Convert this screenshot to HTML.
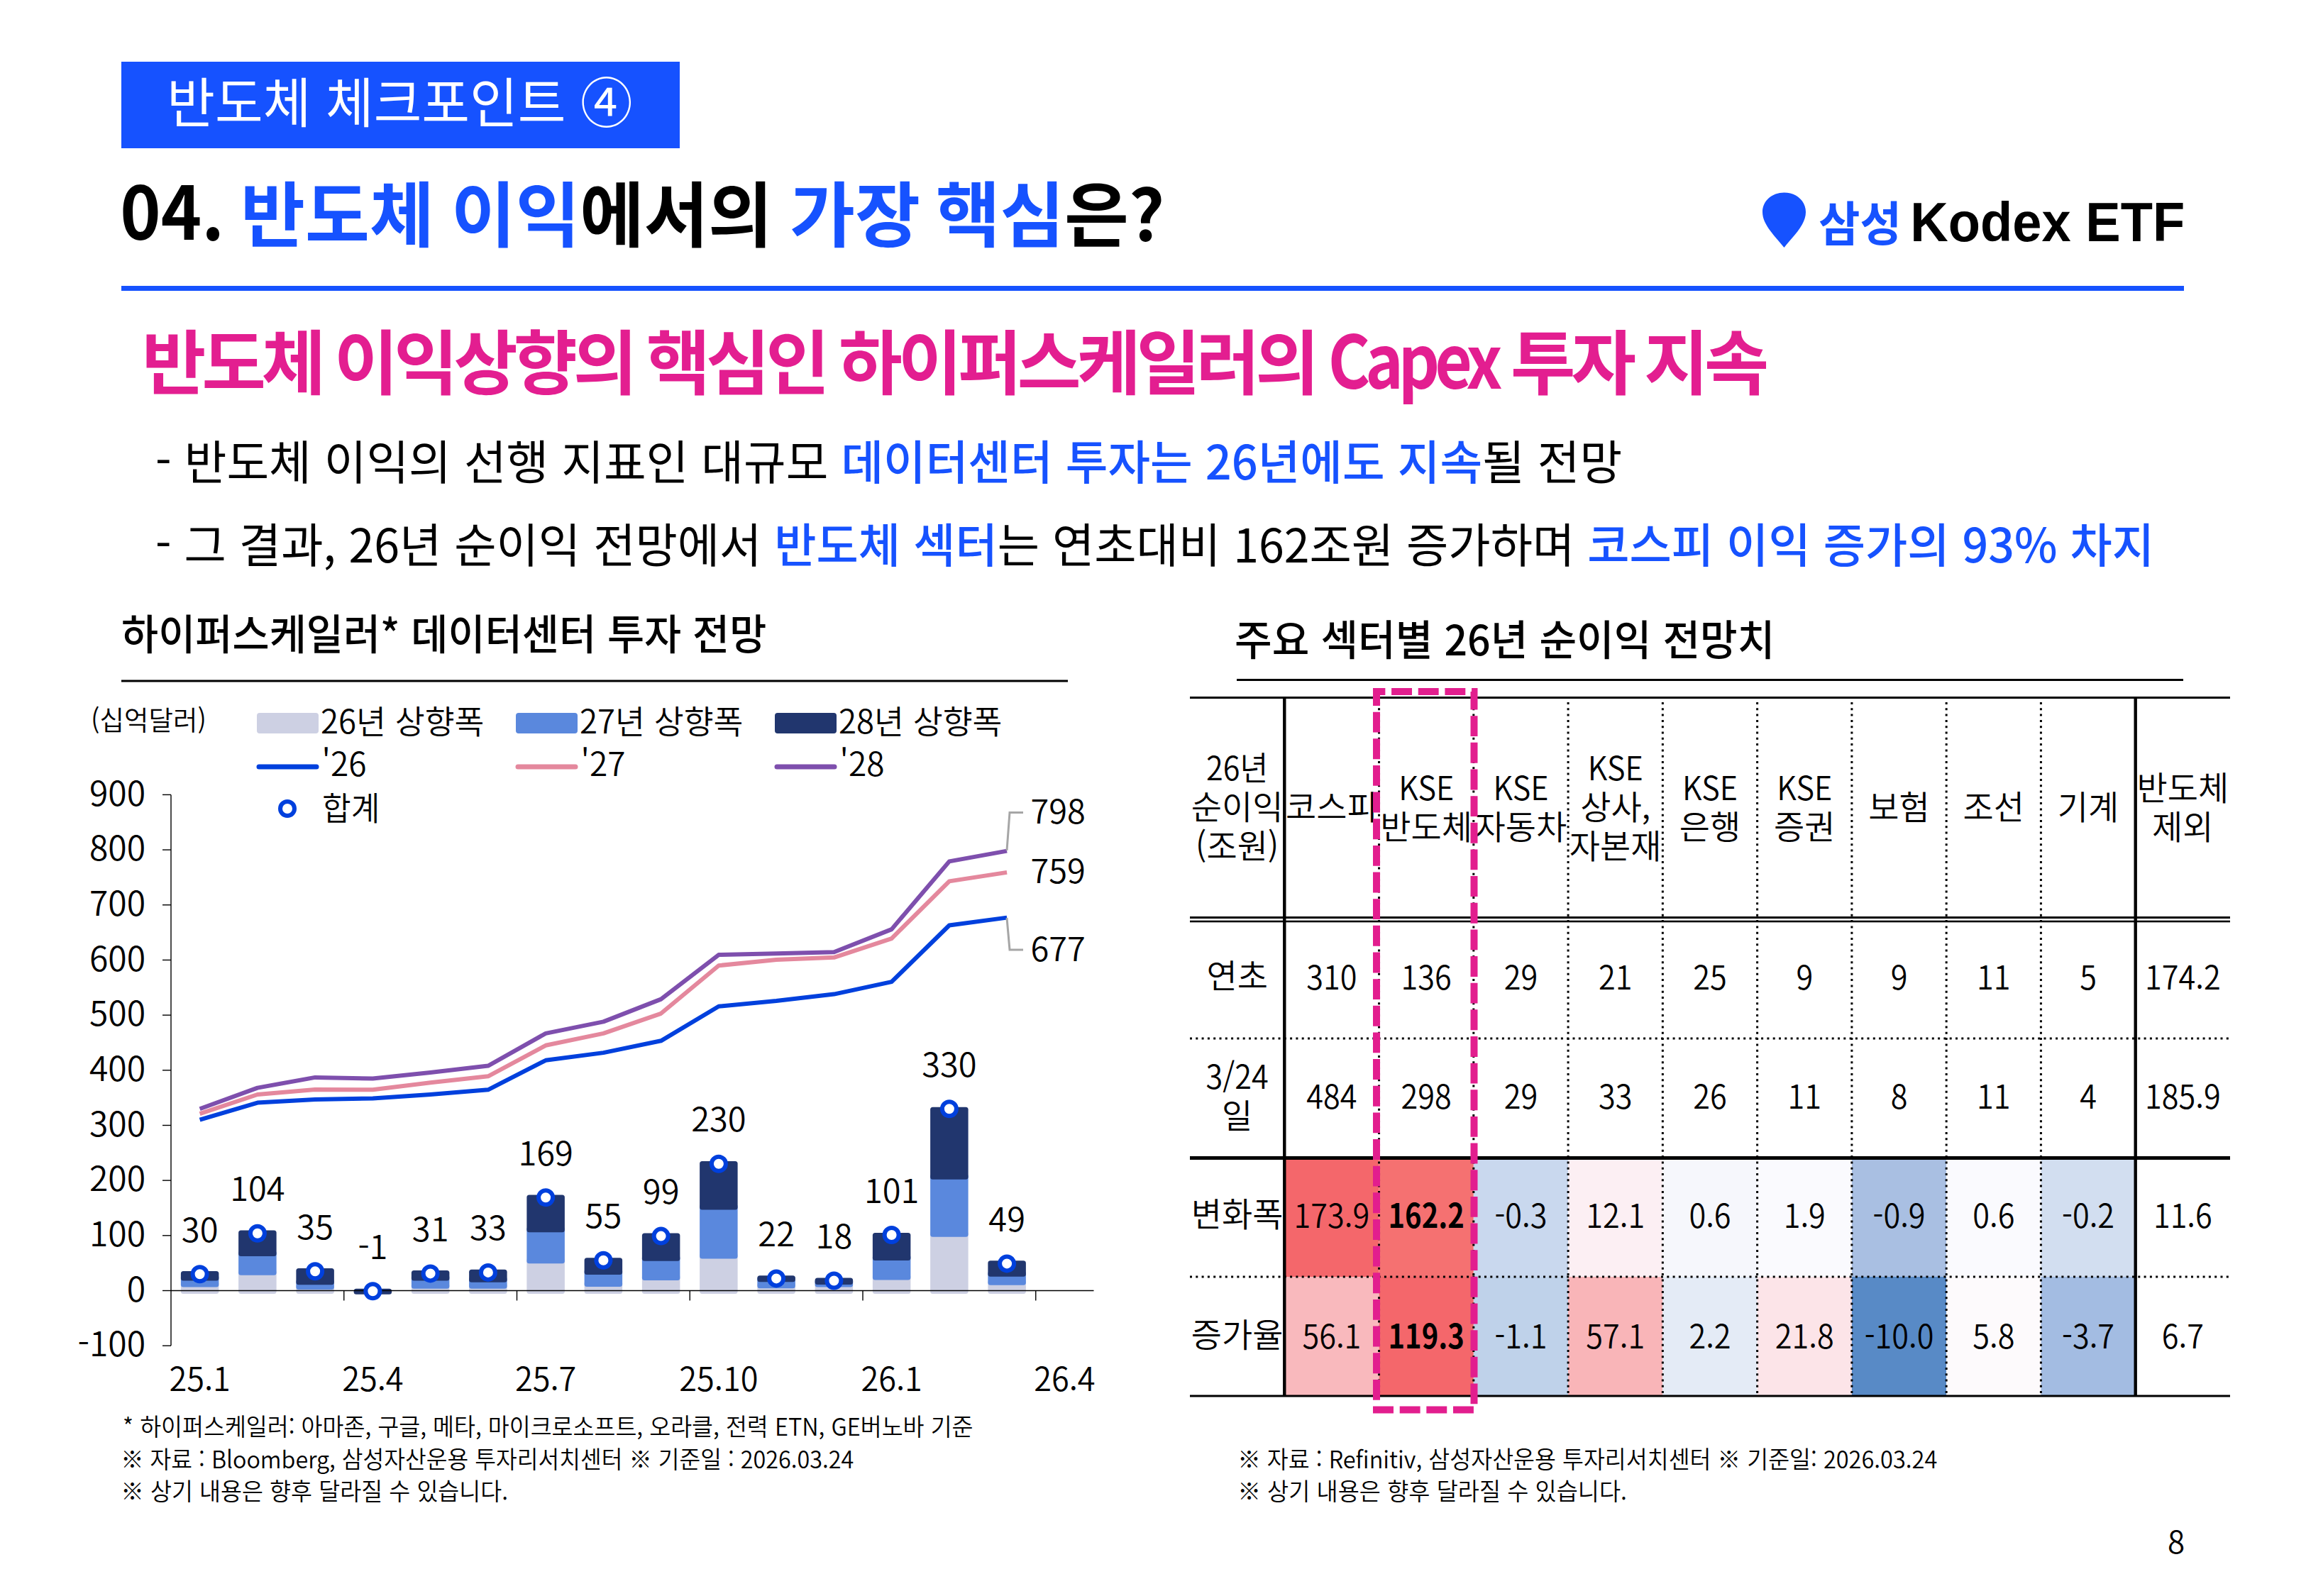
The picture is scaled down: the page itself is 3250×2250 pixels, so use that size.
<!DOCTYPE html>
<html lang="ko"><head><meta charset="utf-8">
<style>
html,body{margin:0;padding:0;background:#fff;}
body{width:3250px;height:2250px;overflow:hidden;}
svg{display:block;font-family:'Noto Sans CJK KR','Liberation Sans',sans-serif;}
</style></head><body>
<svg width="3250" height="2250" viewBox="0 0 3250 2250">
<rect x="171.00" y="87.00" width="787.00" height="122.00" fill="#1652FF"/>
<text transform="translate(235.22,173.40) scale(0.9685,1)" font-size="76" font-weight="400" fill="#fff" text-anchor="start">반도체 체크포인트 ④</text>
<text transform="translate(169.31,337.80) scale(0.9371,1)" font-size="104" font-weight="700" fill="#000" text-anchor="start">04.</text>
<text transform="translate(339.08,340.00) scale(0.9885,1)" font-size="100" font-weight="700" fill="#000" text-anchor="start"><tspan fill="#1652FF">반도체</tspan></text>
<text transform="translate(636.11,340.00) scale(0.9841,1)" font-size="100" font-weight="700" fill="#000" text-anchor="start"><tspan fill="#1652FF">이익</tspan>에서의</text>
<text transform="translate(1113.00,340.00)" font-size="100" font-weight="700" fill="#000" text-anchor="start"><tspan fill="#1652FF">가장</tspan></text>
<text transform="translate(1319.06,340.00) scale(0.9842,1)" font-size="100" font-weight="700" fill="#000" text-anchor="start"><tspan fill="#1652FF">핵심</tspan>은?</text>
<path d="M2514.5 349 C2502 333 2484 317 2484 299 C2484 283 2497.5 271.5 2514.5 271.5 C2531.5 271.5 2545 283 2545 299 C2545 317 2527 333 2514.5 349 Z" fill="#1652FF"/>
<text transform="translate(2563.11,340.00) scale(0.9474,1)" font-size="67" font-weight="700" fill="#1652FF" text-anchor="start">삼성</text>
<text transform="translate(2692.25,340.00) scale(0.9499,1)" font-size="78" font-weight="700" fill="#000" text-anchor="start" font-family="'Liberation Sans',sans-serif">Kodex ETF</text>
<rect x="171.00" y="403.00" width="2907.00" height="7.00" fill="#1652FF"/>
<text transform="translate(200.06,548.00) scale(0.9918,1)" font-size="99" font-weight="700" fill="#E31E90" text-anchor="start" letter-spacing="-6">반도체</text>
<text transform="translate(471.07,548.00) scale(0.9903,1)" font-size="99" font-weight="700" fill="#E31E90" text-anchor="start" letter-spacing="-6">이익상향의</text>
<text transform="translate(911.05,548.00) scale(0.9879,1)" font-size="99" font-weight="700" fill="#E31E90" text-anchor="start" letter-spacing="-6">핵심인</text>
<text transform="translate(1182.05,548.00) scale(0.9866,1)" font-size="99" font-weight="700" fill="#E31E90" text-anchor="start" letter-spacing="-6">하이퍼스케일러의</text>
<text transform="translate(1871.77,547.50) scale(0.8718,1)" font-size="104" font-weight="700" fill="#E31E90" text-anchor="start" letter-spacing="-8">Capex</text>
<text transform="translate(2128.98,548.00) scale(1.0059,1)" font-size="99" font-weight="700" fill="#E31E90" text-anchor="start" letter-spacing="-6">투자</text>
<text transform="translate(2317.00,548.00)" font-size="99" font-weight="700" fill="#E31E90" text-anchor="start" letter-spacing="-6">지속</text>
<text transform="translate(219.05,676.00) scale(0.9824,1)" font-size="66" font-weight="400" fill="#000" text-anchor="start">- 반도체 이익의 선행 지표인 대규모 <tspan fill="#1652FF" font-weight="500">데이터센터 투자는 26년에도 지속</tspan>될 전망</text>
<text transform="translate(219.07,792.50) scale(0.9763,1)" font-size="66" font-weight="400" fill="#000" text-anchor="start">- 그 결과, 26년 순이익 전망에서 <tspan fill="#1652FF" font-weight="500">반도체 섹터</tspan>는 연초대비 162조원 증가하며 <tspan fill="#1652FF" font-weight="500">코스피 이익 증가의 93% 차지</tspan></text>
<text transform="translate(171.08,916.00) scale(0.9607,1)" font-size="59" font-weight="500" fill="#000" text-anchor="start">하이퍼스케일러* 데이터센터 투자 전망</text>
<rect x="171.00" y="958.50" width="1334.00" height="3.00" fill="#000"/>
<text transform="translate(1740.09,923.50) scale(0.9703,1)" font-size="59" font-weight="500" fill="#000" text-anchor="start">주요 섹터별 26년 순이익 전망치</text>
<rect x="1743.00" y="957.00" width="1334.00" height="3.00" fill="#000"/>
<text transform="translate(128.05,1029.00) scale(0.9873,1)" font-size="38" font-weight="400" fill="#000" text-anchor="start" font-family="'Noto Sans CJK KR DemiLight','Noto Sans CJK KR',sans-serif">(십억달러)</text>
<rect x="362.00" y="1005.00" width="87.00" height="29.00" fill="#CDD0E3" rx="4"/>
<text transform="translate(452.02,1034.00) scale(0.9912,1)" font-size="46" font-weight="400" fill="#000" text-anchor="start" font-family="'Noto Sans CJK KR DemiLight','Noto Sans CJK KR',sans-serif">26년 상향폭</text>
<line x1="365.00" y1="1081.00" x2="446.00" y2="1081.00" stroke="#0040DD" stroke-width="7" stroke-linecap="round"/>
<text transform="translate(453.50,1094.00)" font-size="46" font-weight="400" fill="#000" text-anchor="start" font-family="'Noto Sans CJK KR DemiLight','Noto Sans CJK KR',sans-serif">'26</text>
<rect x="727.00" y="1005.00" width="87.00" height="29.00" fill="#5A88DD" rx="4"/>
<text transform="translate(817.02,1034.00) scale(0.9912,1)" font-size="46" font-weight="400" fill="#000" text-anchor="start" font-family="'Noto Sans CJK KR DemiLight','Noto Sans CJK KR',sans-serif">27년 상향폭</text>
<line x1="730.00" y1="1081.00" x2="811.00" y2="1081.00" stroke="#E4889D" stroke-width="7" stroke-linecap="round"/>
<text transform="translate(818.50,1094.00)" font-size="46" font-weight="400" fill="#000" text-anchor="start" font-family="'Noto Sans CJK KR DemiLight','Noto Sans CJK KR',sans-serif">'27</text>
<rect x="1092.00" y="1005.00" width="87.00" height="29.00" fill="#21366E" rx="4"/>
<text transform="translate(1182.02,1034.00) scale(0.9912,1)" font-size="46" font-weight="400" fill="#000" text-anchor="start" font-family="'Noto Sans CJK KR DemiLight','Noto Sans CJK KR',sans-serif">28년 상향폭</text>
<line x1="1095.00" y1="1081.00" x2="1176.00" y2="1081.00" stroke="#7E4FAD" stroke-width="7" stroke-linecap="round"/>
<text transform="translate(1183.50,1094.00)" font-size="46" font-weight="400" fill="#000" text-anchor="start" font-family="'Noto Sans CJK KR DemiLight','Noto Sans CJK KR',sans-serif">'28</text>
<circle cx="405" cy="1140" r="10" fill="#fff" stroke="#0040DD" stroke-width="6"/>
<text transform="translate(454.08,1155.50) scale(0.9610,1)" font-size="46" font-weight="400" fill="#000" text-anchor="start" font-family="'Noto Sans CJK KR DemiLight','Noto Sans CJK KR',sans-serif">합계</text>
<line x1="241.00" y1="1120.40" x2="241.00" y2="1897.00" stroke="#000" stroke-width="1.4"/>
<line x1="229.00" y1="1897.18" x2="241.00" y2="1897.18" stroke="#000" stroke-width="1.4"/>
<text transform="translate(205.00,1912.38)" font-size="48" font-weight="400" fill="#000" text-anchor="end" font-family="'Noto Sans CJK KR DemiLight','Noto Sans CJK KR',sans-serif">-100</text>
<line x1="229.00" y1="1819.50" x2="241.00" y2="1819.50" stroke="#000" stroke-width="1.4"/>
<text transform="translate(205.00,1834.70)" font-size="48" font-weight="400" fill="#000" text-anchor="end" font-family="'Noto Sans CJK KR DemiLight','Noto Sans CJK KR',sans-serif">0</text>
<line x1="229.00" y1="1741.82" x2="241.00" y2="1741.82" stroke="#000" stroke-width="1.4"/>
<text transform="translate(205.00,1757.02)" font-size="48" font-weight="400" fill="#000" text-anchor="end" font-family="'Noto Sans CJK KR DemiLight','Noto Sans CJK KR',sans-serif">100</text>
<line x1="229.00" y1="1664.14" x2="241.00" y2="1664.14" stroke="#000" stroke-width="1.4"/>
<text transform="translate(205.00,1679.34)" font-size="48" font-weight="400" fill="#000" text-anchor="end" font-family="'Noto Sans CJK KR DemiLight','Noto Sans CJK KR',sans-serif">200</text>
<line x1="229.00" y1="1586.47" x2="241.00" y2="1586.47" stroke="#000" stroke-width="1.4"/>
<text transform="translate(205.00,1601.67)" font-size="48" font-weight="400" fill="#000" text-anchor="end" font-family="'Noto Sans CJK KR DemiLight','Noto Sans CJK KR',sans-serif">300</text>
<line x1="229.00" y1="1508.79" x2="241.00" y2="1508.79" stroke="#000" stroke-width="1.4"/>
<text transform="translate(205.00,1523.99)" font-size="48" font-weight="400" fill="#000" text-anchor="end" font-family="'Noto Sans CJK KR DemiLight','Noto Sans CJK KR',sans-serif">400</text>
<line x1="229.00" y1="1431.11" x2="241.00" y2="1431.11" stroke="#000" stroke-width="1.4"/>
<text transform="translate(205.00,1446.31)" font-size="48" font-weight="400" fill="#000" text-anchor="end" font-family="'Noto Sans CJK KR DemiLight','Noto Sans CJK KR',sans-serif">500</text>
<line x1="229.00" y1="1353.43" x2="241.00" y2="1353.43" stroke="#000" stroke-width="1.4"/>
<text transform="translate(205.00,1368.63)" font-size="48" font-weight="400" fill="#000" text-anchor="end" font-family="'Noto Sans CJK KR DemiLight','Noto Sans CJK KR',sans-serif">600</text>
<line x1="229.00" y1="1275.75" x2="241.00" y2="1275.75" stroke="#000" stroke-width="1.4"/>
<text transform="translate(205.00,1290.95)" font-size="48" font-weight="400" fill="#000" text-anchor="end" font-family="'Noto Sans CJK KR DemiLight','Noto Sans CJK KR',sans-serif">700</text>
<line x1="229.00" y1="1198.08" x2="241.00" y2="1198.08" stroke="#000" stroke-width="1.4"/>
<text transform="translate(205.00,1213.28)" font-size="48" font-weight="400" fill="#000" text-anchor="end" font-family="'Noto Sans CJK KR DemiLight','Noto Sans CJK KR',sans-serif">800</text>
<line x1="229.00" y1="1120.40" x2="241.00" y2="1120.40" stroke="#000" stroke-width="1.4"/>
<text transform="translate(205.00,1135.60)" font-size="48" font-weight="400" fill="#000" text-anchor="end" font-family="'Noto Sans CJK KR DemiLight','Noto Sans CJK KR',sans-serif">900</text>
<rect x="254.88" y="1806.60" width="53.50" height="17.40" fill="#CDD0E3" rx="3.5"/>
<rect x="254.88" y="1797.50" width="53.50" height="17.10" fill="#5A88DD" rx="3.5"/>
<rect x="254.88" y="1792.10" width="53.50" height="13.40" fill="#21366E" rx="3.5"/>
<rect x="336.12" y="1789.70" width="53.50" height="34.30" fill="#CDD0E3" rx="3.5"/>
<rect x="336.12" y="1763.00" width="53.50" height="34.70" fill="#5A88DD" rx="3.5"/>
<rect x="336.12" y="1734.60" width="53.50" height="36.40" fill="#21366E" rx="3.5"/>
<rect x="417.38" y="1809.90" width="53.50" height="14.10" fill="#CDD0E3" rx="3.5"/>
<rect x="417.38" y="1803.20" width="53.50" height="14.70" fill="#5A88DD" rx="3.5"/>
<rect x="417.38" y="1788.10" width="53.50" height="23.10" fill="#21366E" rx="3.5"/>
<rect x="498.62" y="1816.80" width="53.50" height="8.00" fill="#21366E" rx="3.5"/>
<rect x="579.88" y="1808.80" width="53.50" height="15.20" fill="#CDD0E3" rx="3.5"/>
<rect x="579.88" y="1797.50" width="53.50" height="19.30" fill="#5A88DD" rx="3.5"/>
<rect x="579.88" y="1791.00" width="53.50" height="14.50" fill="#21366E" rx="3.5"/>
<rect x="661.12" y="1808.80" width="53.50" height="15.20" fill="#CDD0E3" rx="3.5"/>
<rect x="661.12" y="1799.80" width="53.50" height="17.00" fill="#5A88DD" rx="3.5"/>
<rect x="661.12" y="1789.80" width="53.50" height="18.00" fill="#21366E" rx="3.5"/>
<rect x="742.38" y="1773.20" width="53.50" height="50.80" fill="#CDD0E3" rx="3.5"/>
<rect x="742.38" y="1729.20" width="53.50" height="52.00" fill="#5A88DD" rx="3.5"/>
<rect x="742.38" y="1684.50" width="53.50" height="52.70" fill="#21366E" rx="3.5"/>
<rect x="823.62" y="1805.90" width="53.50" height="18.10" fill="#CDD0E3" rx="3.5"/>
<rect x="823.62" y="1789.00" width="53.50" height="24.90" fill="#5A88DD" rx="3.5"/>
<rect x="823.62" y="1773.20" width="53.50" height="23.80" fill="#21366E" rx="3.5"/>
<rect x="904.88" y="1796.90" width="53.50" height="27.10" fill="#CDD0E3" rx="3.5"/>
<rect x="904.88" y="1769.80" width="53.50" height="35.10" fill="#5A88DD" rx="3.5"/>
<rect x="904.88" y="1738.50" width="53.50" height="39.30" fill="#21366E" rx="3.5"/>
<rect x="986.12" y="1766.40" width="53.50" height="57.60" fill="#CDD0E3" rx="3.5"/>
<rect x="986.12" y="1697.60" width="53.50" height="76.80" fill="#5A88DD" rx="3.5"/>
<rect x="986.12" y="1637.00" width="53.50" height="68.60" fill="#21366E" rx="3.5"/>
<rect x="1067.38" y="1808.20" width="53.50" height="15.80" fill="#CDD0E3" rx="3.5"/>
<rect x="1067.38" y="1799.20" width="53.50" height="17.00" fill="#5A88DD" rx="3.5"/>
<rect x="1067.38" y="1798.20" width="53.50" height="9.00" fill="#21366E" rx="3.5"/>
<rect x="1148.62" y="1806.50" width="53.50" height="17.50" fill="#CDD0E3" rx="3.5"/>
<rect x="1148.62" y="1803.00" width="53.50" height="11.50" fill="#5A88DD" rx="3.5"/>
<rect x="1148.62" y="1801.60" width="53.50" height="9.40" fill="#21366E" rx="3.5"/>
<rect x="1229.88" y="1796.50" width="53.50" height="27.50" fill="#CDD0E3" rx="3.5"/>
<rect x="1229.88" y="1769.10" width="53.50" height="35.40" fill="#5A88DD" rx="3.5"/>
<rect x="1229.88" y="1738.00" width="53.50" height="39.10" fill="#21366E" rx="3.5"/>
<rect x="1311.12" y="1735.70" width="53.50" height="88.30" fill="#CDD0E3" rx="3.5"/>
<rect x="1311.12" y="1654.70" width="53.50" height="89.00" fill="#5A88DD" rx="3.5"/>
<rect x="1311.12" y="1560.70" width="53.50" height="102.00" fill="#21366E" rx="3.5"/>
<rect x="1392.38" y="1803.70" width="53.50" height="20.30" fill="#CDD0E3" rx="3.5"/>
<rect x="1392.38" y="1791.70" width="53.50" height="20.00" fill="#5A88DD" rx="3.5"/>
<rect x="1392.38" y="1777.30" width="53.50" height="22.40" fill="#21366E" rx="3.5"/>
<line x1="241.00" y1="1819.50" x2="1541.50" y2="1819.50" stroke="#000" stroke-width="1.4"/>
<line x1="484.75" y1="1819.50" x2="484.75" y2="1833.50" stroke="#000" stroke-width="1.4"/>
<line x1="728.50" y1="1819.50" x2="728.50" y2="1833.50" stroke="#000" stroke-width="1.4"/>
<line x1="972.25" y1="1819.50" x2="972.25" y2="1833.50" stroke="#000" stroke-width="1.4"/>
<line x1="1216.00" y1="1819.50" x2="1216.00" y2="1833.50" stroke="#000" stroke-width="1.4"/>
<line x1="1459.75" y1="1819.50" x2="1459.75" y2="1833.50" stroke="#000" stroke-width="1.4"/>
<polyline points="281.6,1578.7 362.9,1554.6 444.1,1550.0 525.4,1548.4 606.6,1543.0 687.9,1536.3 769.1,1494.8 850.4,1484.1 931.6,1467.3 1012.9,1418.7 1094.1,1411.1 1175.4,1401.6 1256.6,1384.1 1337.9,1304.5 1419.1,1293.6" fill="none" stroke="#0040DD" stroke-width="6" stroke-linejoin="round"/>
<polyline points="281.6,1570.2 362.9,1543.0 444.1,1536.0 525.4,1536.3 606.6,1526.3 687.9,1517.3 769.1,1473.8 850.4,1456.9 931.6,1428.8 1012.9,1361.2 1094.1,1352.9 1175.4,1349.8 1256.6,1323.1 1337.9,1242.4 1419.1,1229.9" fill="none" stroke="#E4889D" stroke-width="6" stroke-linejoin="round"/>
<polyline points="281.6,1563.2 362.9,1533.6 444.1,1518.9 525.4,1520.6 606.6,1511.9 687.9,1502.6 769.1,1456.9 850.4,1440.4 931.6,1408.6 1012.9,1346.1 1094.1,1344.3 1175.4,1342.3 1256.6,1310.1 1337.9,1214.4 1419.1,1199.6" fill="none" stroke="#7E4FAD" stroke-width="6" stroke-linejoin="round"/>
<polyline points="1419,1199 1423,1145.5 1442,1145.5" fill="none" stroke="#A6A6A6" stroke-width="3"/>
<polyline points="1419,1294 1423,1339 1442,1339" fill="none" stroke="#A6A6A6" stroke-width="3"/>
<text transform="translate(1452.50,1161.00)" font-size="47" font-weight="400" fill="#000" text-anchor="start" font-family="'Noto Sans CJK KR DemiLight','Noto Sans CJK KR',sans-serif">798</text>
<text transform="translate(1452.50,1245.00)" font-size="47" font-weight="400" fill="#000" text-anchor="start" font-family="'Noto Sans CJK KR DemiLight','Noto Sans CJK KR',sans-serif">759</text>
<text transform="translate(1452.50,1354.50)" font-size="47" font-weight="400" fill="#000" text-anchor="start" font-family="'Noto Sans CJK KR DemiLight','Noto Sans CJK KR',sans-serif">677</text>
<circle cx="281.6" cy="1796.2" r="10" fill="#fff" stroke="#0040DD" stroke-width="6"/>
<text transform="translate(281.62,1750.70)" font-size="47" font-weight="400" fill="#000" text-anchor="middle" font-family="'Noto Sans CJK KR DemiLight','Noto Sans CJK KR',sans-serif">30</text>
<circle cx="362.9" cy="1738.7" r="10" fill="#fff" stroke="#0040DD" stroke-width="6"/>
<text transform="translate(362.88,1693.21)" font-size="47" font-weight="400" fill="#000" text-anchor="middle" font-family="'Noto Sans CJK KR DemiLight','Noto Sans CJK KR',sans-serif">104</text>
<circle cx="444.1" cy="1792.3" r="10" fill="#fff" stroke="#0040DD" stroke-width="6"/>
<text transform="translate(444.12,1746.81)" font-size="47" font-weight="400" fill="#000" text-anchor="middle" font-family="'Noto Sans CJK KR DemiLight','Noto Sans CJK KR',sans-serif">35</text>
<circle cx="525.4" cy="1820.3" r="10" fill="#fff" stroke="#0040DD" stroke-width="6"/>
<text transform="translate(525.38,1774.78)" font-size="47" font-weight="400" fill="#000" text-anchor="middle" font-family="'Noto Sans CJK KR DemiLight','Noto Sans CJK KR',sans-serif">-1</text>
<circle cx="606.6" cy="1795.4" r="10" fill="#fff" stroke="#0040DD" stroke-width="6"/>
<text transform="translate(606.62,1749.92)" font-size="47" font-weight="400" fill="#000" text-anchor="middle" font-family="'Noto Sans CJK KR DemiLight','Noto Sans CJK KR',sans-serif">31</text>
<circle cx="687.9" cy="1793.9" r="10" fill="#fff" stroke="#0040DD" stroke-width="6"/>
<text transform="translate(687.88,1748.37)" font-size="47" font-weight="400" fill="#000" text-anchor="middle" font-family="'Noto Sans CJK KR DemiLight','Noto Sans CJK KR',sans-serif">33</text>
<circle cx="769.1" cy="1688.2" r="10" fill="#fff" stroke="#0040DD" stroke-width="6"/>
<text transform="translate(769.12,1642.72)" font-size="47" font-weight="400" fill="#000" text-anchor="middle" font-family="'Noto Sans CJK KR DemiLight','Noto Sans CJK KR',sans-serif">169</text>
<circle cx="850.4" cy="1776.8" r="10" fill="#fff" stroke="#0040DD" stroke-width="6"/>
<text transform="translate(850.38,1731.28)" font-size="47" font-weight="400" fill="#000" text-anchor="middle" font-family="'Noto Sans CJK KR DemiLight','Noto Sans CJK KR',sans-serif">55</text>
<circle cx="931.6" cy="1742.6" r="10" fill="#fff" stroke="#0040DD" stroke-width="6"/>
<text transform="translate(931.62,1697.10)" font-size="47" font-weight="400" fill="#000" text-anchor="middle" font-family="'Noto Sans CJK KR DemiLight','Noto Sans CJK KR',sans-serif">99</text>
<circle cx="1012.9" cy="1640.8" r="10" fill="#fff" stroke="#0040DD" stroke-width="6"/>
<text transform="translate(1012.88,1595.34)" font-size="47" font-weight="400" fill="#000" text-anchor="middle" font-family="'Noto Sans CJK KR DemiLight','Noto Sans CJK KR',sans-serif">230</text>
<circle cx="1094.1" cy="1802.4" r="10" fill="#fff" stroke="#0040DD" stroke-width="6"/>
<text transform="translate(1094.12,1756.91)" font-size="47" font-weight="400" fill="#000" text-anchor="middle" font-family="'Noto Sans CJK KR DemiLight','Noto Sans CJK KR',sans-serif">22</text>
<circle cx="1175.4" cy="1805.5" r="10" fill="#fff" stroke="#0040DD" stroke-width="6"/>
<text transform="translate(1175.38,1760.02)" font-size="47" font-weight="400" fill="#000" text-anchor="middle" font-family="'Noto Sans CJK KR DemiLight','Noto Sans CJK KR',sans-serif">18</text>
<circle cx="1256.6" cy="1741.0" r="10" fill="#fff" stroke="#0040DD" stroke-width="6"/>
<text transform="translate(1256.62,1695.55)" font-size="47" font-weight="400" fill="#000" text-anchor="middle" font-family="'Noto Sans CJK KR DemiLight','Noto Sans CJK KR',sans-serif">101</text>
<circle cx="1337.9" cy="1563.2" r="10" fill="#fff" stroke="#0040DD" stroke-width="6"/>
<text transform="translate(1337.88,1517.66)" font-size="47" font-weight="400" fill="#000" text-anchor="middle" font-family="'Noto Sans CJK KR DemiLight','Noto Sans CJK KR',sans-serif">330</text>
<circle cx="1419.1" cy="1781.4" r="10" fill="#fff" stroke="#0040DD" stroke-width="6"/>
<text transform="translate(1419.12,1735.94)" font-size="47" font-weight="400" fill="#000" text-anchor="middle" font-family="'Noto Sans CJK KR DemiLight','Noto Sans CJK KR',sans-serif">49</text>
<text transform="translate(281.62,1961.00) scale(0.9600,1)" font-size="47" font-weight="400" fill="#000" text-anchor="middle" font-family="'Noto Sans CJK KR DemiLight','Noto Sans CJK KR',sans-serif">25.1</text>
<text transform="translate(525.38,1961.00) scale(0.9600,1)" font-size="47" font-weight="400" fill="#000" text-anchor="middle" font-family="'Noto Sans CJK KR DemiLight','Noto Sans CJK KR',sans-serif">25.4</text>
<text transform="translate(769.12,1961.00) scale(0.9600,1)" font-size="47" font-weight="400" fill="#000" text-anchor="middle" font-family="'Noto Sans CJK KR DemiLight','Noto Sans CJK KR',sans-serif">25.7</text>
<text transform="translate(1012.88,1961.00) scale(0.9600,1)" font-size="47" font-weight="400" fill="#000" text-anchor="middle" font-family="'Noto Sans CJK KR DemiLight','Noto Sans CJK KR',sans-serif">25.10</text>
<text transform="translate(1256.62,1961.00) scale(0.9600,1)" font-size="47" font-weight="400" fill="#000" text-anchor="middle" font-family="'Noto Sans CJK KR DemiLight','Noto Sans CJK KR',sans-serif">26.1</text>
<text transform="translate(1500.38,1961.00) scale(0.9600,1)" font-size="47" font-weight="400" fill="#000" text-anchor="middle" font-family="'Noto Sans CJK KR DemiLight','Noto Sans CJK KR',sans-serif">26.4</text>
<rect x="1810.27" y="1632.00" width="133.27" height="168.00" fill="#F4676B"/>
<rect x="1943.54" y="1632.00" width="133.27" height="168.00" fill="#F57171"/>
<rect x="2076.81" y="1632.00" width="133.27" height="168.00" fill="#C9D8EE"/>
<rect x="2210.08" y="1632.00" width="133.27" height="168.00" fill="#FCEFF3"/>
<rect x="2343.35" y="1632.00" width="133.27" height="168.00" fill="#F6F7FC"/>
<rect x="2476.62" y="1632.00" width="133.27" height="168.00" fill="#FAFAFE"/>
<rect x="2609.89" y="1632.00" width="133.27" height="168.00" fill="#A9BFE2"/>
<rect x="2743.16" y="1632.00" width="133.27" height="168.00" fill="#FAFAFE"/>
<rect x="2876.43" y="1632.00" width="133.27" height="168.00" fill="#D2DEF0"/>
<rect x="1810.27" y="1800.00" width="133.27" height="168.00" fill="#F9B9BD"/>
<rect x="1943.54" y="1800.00" width="133.27" height="168.00" fill="#F4676B"/>
<rect x="2076.81" y="1800.00" width="133.27" height="168.00" fill="#BFD2EA"/>
<rect x="2210.08" y="1800.00" width="133.27" height="168.00" fill="#F9B5B8"/>
<rect x="2343.35" y="1800.00" width="133.27" height="168.00" fill="#E4EBF6"/>
<rect x="2476.62" y="1800.00" width="133.27" height="168.00" fill="#FCE4E8"/>
<rect x="2609.89" y="1800.00" width="133.27" height="168.00" fill="#588AC6"/>
<rect x="2743.16" y="1800.00" width="133.27" height="168.00" fill="#FDFAFC"/>
<rect x="2876.43" y="1800.00" width="133.27" height="168.00" fill="#A3BCE2"/>
<line x1="1943.54" y1="990.00" x2="1943.54" y2="1968.00" stroke="#000" stroke-width="3" stroke-dasharray="3 5.3"/>
<line x1="2076.81" y1="990.00" x2="2076.81" y2="1968.00" stroke="#000" stroke-width="3" stroke-dasharray="3 5.3"/>
<line x1="2210.08" y1="990.00" x2="2210.08" y2="1968.00" stroke="#000" stroke-width="3" stroke-dasharray="3 5.3"/>
<line x1="2343.35" y1="990.00" x2="2343.35" y2="1968.00" stroke="#000" stroke-width="3" stroke-dasharray="3 5.3"/>
<line x1="2476.62" y1="990.00" x2="2476.62" y2="1968.00" stroke="#000" stroke-width="3" stroke-dasharray="3 5.3"/>
<line x1="2609.89" y1="990.00" x2="2609.89" y2="1968.00" stroke="#000" stroke-width="3" stroke-dasharray="3 5.3"/>
<line x1="2743.16" y1="990.00" x2="2743.16" y2="1968.00" stroke="#000" stroke-width="3" stroke-dasharray="3 5.3"/>
<line x1="2876.43" y1="990.00" x2="2876.43" y2="1968.00" stroke="#000" stroke-width="3" stroke-dasharray="3 5.3"/>
<line x1="1677.00" y1="1464.00" x2="3143.00" y2="1464.00" stroke="#000" stroke-width="3" stroke-dasharray="3 5.3"/>
<line x1="1677.00" y1="1800.00" x2="3143.00" y2="1800.00" stroke="#000" stroke-width="3" stroke-dasharray="3 5.3"/>
<rect x="1677.00" y="982.00" width="1466.00" height="3.00" fill="#000"/>
<rect x="1677.00" y="1292.00" width="1466.00" height="3.00" fill="#000"/>
<rect x="1677.00" y="1297.70" width="1466.00" height="2.60" fill="#000"/>
<rect x="1677.00" y="1630.00" width="1466.00" height="5.00" fill="#000"/>
<rect x="1677.00" y="1966.50" width="1466.00" height="3.00" fill="#000"/>
<rect x="1808.07" y="983.00" width="4.40" height="985.00" fill="#000"/>
<rect x="3007.50" y="983.00" width="4.40" height="985.00" fill="#000"/>
<text transform="translate(1743.63,1100.00) scale(0.9200,1)" font-size="47" font-weight="400" fill="#000" text-anchor="middle" font-family="'Noto Sans CJK KR DemiLight','Noto Sans CJK KR',sans-serif">26년</text>
<text transform="translate(1743.63,1155.00)" font-size="47" font-weight="400" fill="#000" text-anchor="middle" font-family="'Noto Sans CJK KR DemiLight','Noto Sans CJK KR',sans-serif">순이익</text>
<text transform="translate(1743.63,1210.00)" font-size="47" font-weight="400" fill="#000" text-anchor="middle" font-family="'Noto Sans CJK KR DemiLight','Noto Sans CJK KR',sans-serif">(조원)</text>
<text transform="translate(1876.90,1155.00)" font-size="47" font-weight="400" fill="#000" text-anchor="middle" font-family="'Noto Sans CJK KR DemiLight','Noto Sans CJK KR',sans-serif">코스피</text>
<text transform="translate(2010.17,1127.50) scale(0.9200,1)" font-size="47" font-weight="400" fill="#000" text-anchor="middle" font-family="'Noto Sans CJK KR DemiLight','Noto Sans CJK KR',sans-serif">KSE</text>
<text transform="translate(2010.17,1182.50)" font-size="47" font-weight="400" fill="#000" text-anchor="middle" font-family="'Noto Sans CJK KR DemiLight','Noto Sans CJK KR',sans-serif">반도체</text>
<text transform="translate(2143.44,1127.50) scale(0.9200,1)" font-size="47" font-weight="400" fill="#000" text-anchor="middle" font-family="'Noto Sans CJK KR DemiLight','Noto Sans CJK KR',sans-serif">KSE</text>
<text transform="translate(2143.44,1182.50)" font-size="47" font-weight="400" fill="#000" text-anchor="middle" font-family="'Noto Sans CJK KR DemiLight','Noto Sans CJK KR',sans-serif">자동차</text>
<text transform="translate(2276.72,1100.00) scale(0.9200,1)" font-size="47" font-weight="400" fill="#000" text-anchor="middle" font-family="'Noto Sans CJK KR DemiLight','Noto Sans CJK KR',sans-serif">KSE</text>
<text transform="translate(2276.72,1155.00)" font-size="47" font-weight="400" fill="#000" text-anchor="middle" font-family="'Noto Sans CJK KR DemiLight','Noto Sans CJK KR',sans-serif">상사,</text>
<text transform="translate(2276.72,1210.00)" font-size="47" font-weight="400" fill="#000" text-anchor="middle" font-family="'Noto Sans CJK KR DemiLight','Noto Sans CJK KR',sans-serif">자본재</text>
<text transform="translate(2409.98,1127.50) scale(0.9200,1)" font-size="47" font-weight="400" fill="#000" text-anchor="middle" font-family="'Noto Sans CJK KR DemiLight','Noto Sans CJK KR',sans-serif">KSE</text>
<text transform="translate(2409.98,1182.50)" font-size="47" font-weight="400" fill="#000" text-anchor="middle" font-family="'Noto Sans CJK KR DemiLight','Noto Sans CJK KR',sans-serif">은행</text>
<text transform="translate(2543.26,1127.50) scale(0.9200,1)" font-size="47" font-weight="400" fill="#000" text-anchor="middle" font-family="'Noto Sans CJK KR DemiLight','Noto Sans CJK KR',sans-serif">KSE</text>
<text transform="translate(2543.26,1182.50)" font-size="47" font-weight="400" fill="#000" text-anchor="middle" font-family="'Noto Sans CJK KR DemiLight','Noto Sans CJK KR',sans-serif">증권</text>
<text transform="translate(2676.53,1155.00)" font-size="47" font-weight="400" fill="#000" text-anchor="middle" font-family="'Noto Sans CJK KR DemiLight','Noto Sans CJK KR',sans-serif">보험</text>
<text transform="translate(2809.80,1155.00)" font-size="47" font-weight="400" fill="#000" text-anchor="middle" font-family="'Noto Sans CJK KR DemiLight','Noto Sans CJK KR',sans-serif">조선</text>
<text transform="translate(2943.07,1155.00)" font-size="47" font-weight="400" fill="#000" text-anchor="middle" font-family="'Noto Sans CJK KR DemiLight','Noto Sans CJK KR',sans-serif">기계</text>
<text transform="translate(3076.34,1127.50)" font-size="47" font-weight="400" fill="#000" text-anchor="middle" font-family="'Noto Sans CJK KR DemiLight','Noto Sans CJK KR',sans-serif">반도체</text>
<text transform="translate(3076.34,1182.50)" font-size="47" font-weight="400" fill="#000" text-anchor="middle" font-family="'Noto Sans CJK KR DemiLight','Noto Sans CJK KR',sans-serif">제외</text>
<text transform="translate(1743.63,1393.00)" font-size="47" font-weight="400" fill="#000" text-anchor="middle" font-family="'Noto Sans CJK KR DemiLight','Noto Sans CJK KR',sans-serif">연초</text>
<text transform="translate(1876.90,1395.00) scale(0.9200,1)" font-size="47" font-weight="400" fill="#000" text-anchor="middle" font-family="'Noto Sans CJK KR DemiLight','Noto Sans CJK KR',sans-serif">310</text>
<text transform="translate(2010.17,1395.00) scale(0.9200,1)" font-size="47" font-weight="400" fill="#000" text-anchor="middle" font-family="'Noto Sans CJK KR DemiLight','Noto Sans CJK KR',sans-serif">136</text>
<text transform="translate(2143.44,1395.00) scale(0.9200,1)" font-size="47" font-weight="400" fill="#000" text-anchor="middle" font-family="'Noto Sans CJK KR DemiLight','Noto Sans CJK KR',sans-serif">29</text>
<text transform="translate(2276.72,1395.00) scale(0.9200,1)" font-size="47" font-weight="400" fill="#000" text-anchor="middle" font-family="'Noto Sans CJK KR DemiLight','Noto Sans CJK KR',sans-serif">21</text>
<text transform="translate(2409.98,1395.00) scale(0.9200,1)" font-size="47" font-weight="400" fill="#000" text-anchor="middle" font-family="'Noto Sans CJK KR DemiLight','Noto Sans CJK KR',sans-serif">25</text>
<text transform="translate(2543.26,1395.00) scale(0.9200,1)" font-size="47" font-weight="400" fill="#000" text-anchor="middle" font-family="'Noto Sans CJK KR DemiLight','Noto Sans CJK KR',sans-serif">9</text>
<text transform="translate(2676.53,1395.00) scale(0.9200,1)" font-size="47" font-weight="400" fill="#000" text-anchor="middle" font-family="'Noto Sans CJK KR DemiLight','Noto Sans CJK KR',sans-serif">9</text>
<text transform="translate(2809.80,1395.00) scale(0.9200,1)" font-size="47" font-weight="400" fill="#000" text-anchor="middle" font-family="'Noto Sans CJK KR DemiLight','Noto Sans CJK KR',sans-serif">11</text>
<text transform="translate(2943.07,1395.00) scale(0.9200,1)" font-size="47" font-weight="400" fill="#000" text-anchor="middle" font-family="'Noto Sans CJK KR DemiLight','Noto Sans CJK KR',sans-serif">5</text>
<text transform="translate(3076.34,1395.00) scale(0.9200,1)" font-size="47" font-weight="400" fill="#000" text-anchor="middle" font-family="'Noto Sans CJK KR DemiLight','Noto Sans CJK KR',sans-serif">174.2</text>
<text transform="translate(1743.63,1535.00) scale(0.9200,1)" font-size="47" font-weight="400" fill="#000" text-anchor="middle" font-family="'Noto Sans CJK KR DemiLight','Noto Sans CJK KR',sans-serif">3/24</text>
<text transform="translate(1743.63,1590.00)" font-size="47" font-weight="400" fill="#000" text-anchor="middle" font-family="'Noto Sans CJK KR DemiLight','Noto Sans CJK KR',sans-serif">일</text>
<text transform="translate(1876.90,1563.40) scale(0.9200,1)" font-size="47" font-weight="400" fill="#000" text-anchor="middle" font-family="'Noto Sans CJK KR DemiLight','Noto Sans CJK KR',sans-serif">484</text>
<text transform="translate(2010.17,1563.40) scale(0.9200,1)" font-size="47" font-weight="400" fill="#000" text-anchor="middle" font-family="'Noto Sans CJK KR DemiLight','Noto Sans CJK KR',sans-serif">298</text>
<text transform="translate(2143.44,1563.40) scale(0.9200,1)" font-size="47" font-weight="400" fill="#000" text-anchor="middle" font-family="'Noto Sans CJK KR DemiLight','Noto Sans CJK KR',sans-serif">29</text>
<text transform="translate(2276.72,1563.40) scale(0.9200,1)" font-size="47" font-weight="400" fill="#000" text-anchor="middle" font-family="'Noto Sans CJK KR DemiLight','Noto Sans CJK KR',sans-serif">33</text>
<text transform="translate(2409.98,1563.40) scale(0.9200,1)" font-size="47" font-weight="400" fill="#000" text-anchor="middle" font-family="'Noto Sans CJK KR DemiLight','Noto Sans CJK KR',sans-serif">26</text>
<text transform="translate(2543.26,1563.40) scale(0.9200,1)" font-size="47" font-weight="400" fill="#000" text-anchor="middle" font-family="'Noto Sans CJK KR DemiLight','Noto Sans CJK KR',sans-serif">11</text>
<text transform="translate(2676.53,1563.40) scale(0.9200,1)" font-size="47" font-weight="400" fill="#000" text-anchor="middle" font-family="'Noto Sans CJK KR DemiLight','Noto Sans CJK KR',sans-serif">8</text>
<text transform="translate(2809.80,1563.40) scale(0.9200,1)" font-size="47" font-weight="400" fill="#000" text-anchor="middle" font-family="'Noto Sans CJK KR DemiLight','Noto Sans CJK KR',sans-serif">11</text>
<text transform="translate(2943.07,1563.40) scale(0.9200,1)" font-size="47" font-weight="400" fill="#000" text-anchor="middle" font-family="'Noto Sans CJK KR DemiLight','Noto Sans CJK KR',sans-serif">4</text>
<text transform="translate(3076.34,1563.40) scale(0.9200,1)" font-size="47" font-weight="400" fill="#000" text-anchor="middle" font-family="'Noto Sans CJK KR DemiLight','Noto Sans CJK KR',sans-serif">185.9</text>
<text transform="translate(1743.63,1729.00)" font-size="47" font-weight="400" fill="#000" text-anchor="middle" font-family="'Noto Sans CJK KR DemiLight','Noto Sans CJK KR',sans-serif">변화폭</text>
<text transform="translate(1876.90,1731.00) scale(0.9200,1)" font-size="47" font-weight="400" fill="#000" text-anchor="middle" font-family="'Noto Sans CJK KR DemiLight','Noto Sans CJK KR',sans-serif">173.9</text>
<text transform="translate(2010.17,1731.00) scale(0.8500,1)" font-size="47" font-weight="700" fill="#000" text-anchor="middle">162.2</text>
<text transform="translate(2143.44,1731.00) scale(0.9200,1)" font-size="47" font-weight="400" fill="#000" text-anchor="middle" font-family="'Noto Sans CJK KR DemiLight','Noto Sans CJK KR',sans-serif">-0.3</text>
<text transform="translate(2276.72,1731.00) scale(0.9200,1)" font-size="47" font-weight="400" fill="#000" text-anchor="middle" font-family="'Noto Sans CJK KR DemiLight','Noto Sans CJK KR',sans-serif">12.1</text>
<text transform="translate(2409.98,1731.00) scale(0.9200,1)" font-size="47" font-weight="400" fill="#000" text-anchor="middle" font-family="'Noto Sans CJK KR DemiLight','Noto Sans CJK KR',sans-serif">0.6</text>
<text transform="translate(2543.26,1731.00) scale(0.9200,1)" font-size="47" font-weight="400" fill="#000" text-anchor="middle" font-family="'Noto Sans CJK KR DemiLight','Noto Sans CJK KR',sans-serif">1.9</text>
<text transform="translate(2676.53,1731.00) scale(0.9200,1)" font-size="47" font-weight="400" fill="#000" text-anchor="middle" font-family="'Noto Sans CJK KR DemiLight','Noto Sans CJK KR',sans-serif">-0.9</text>
<text transform="translate(2809.80,1731.00) scale(0.9200,1)" font-size="47" font-weight="400" fill="#000" text-anchor="middle" font-family="'Noto Sans CJK KR DemiLight','Noto Sans CJK KR',sans-serif">0.6</text>
<text transform="translate(2943.07,1731.00) scale(0.9200,1)" font-size="47" font-weight="400" fill="#000" text-anchor="middle" font-family="'Noto Sans CJK KR DemiLight','Noto Sans CJK KR',sans-serif">-0.2</text>
<text transform="translate(3076.34,1731.00) scale(0.9200,1)" font-size="47" font-weight="400" fill="#000" text-anchor="middle" font-family="'Noto Sans CJK KR DemiLight','Noto Sans CJK KR',sans-serif">11.6</text>
<text transform="translate(1743.63,1898.50)" font-size="47" font-weight="400" fill="#000" text-anchor="middle" font-family="'Noto Sans CJK KR DemiLight','Noto Sans CJK KR',sans-serif">증가율</text>
<text transform="translate(1876.90,1900.50) scale(0.9200,1)" font-size="47" font-weight="400" fill="#000" text-anchor="middle" font-family="'Noto Sans CJK KR DemiLight','Noto Sans CJK KR',sans-serif">56.1</text>
<text transform="translate(2010.17,1900.50) scale(0.8500,1)" font-size="47" font-weight="700" fill="#000" text-anchor="middle">119.3</text>
<text transform="translate(2143.44,1900.50) scale(0.9200,1)" font-size="47" font-weight="400" fill="#000" text-anchor="middle" font-family="'Noto Sans CJK KR DemiLight','Noto Sans CJK KR',sans-serif">-1.1</text>
<text transform="translate(2276.72,1900.50) scale(0.9200,1)" font-size="47" font-weight="400" fill="#000" text-anchor="middle" font-family="'Noto Sans CJK KR DemiLight','Noto Sans CJK KR',sans-serif">57.1</text>
<text transform="translate(2409.98,1900.50) scale(0.9200,1)" font-size="47" font-weight="400" fill="#000" text-anchor="middle" font-family="'Noto Sans CJK KR DemiLight','Noto Sans CJK KR',sans-serif">2.2</text>
<text transform="translate(2543.26,1900.50) scale(0.9200,1)" font-size="47" font-weight="400" fill="#000" text-anchor="middle" font-family="'Noto Sans CJK KR DemiLight','Noto Sans CJK KR',sans-serif">21.8</text>
<text transform="translate(2676.53,1900.50) scale(0.9200,1)" font-size="47" font-weight="400" fill="#000" text-anchor="middle" font-family="'Noto Sans CJK KR DemiLight','Noto Sans CJK KR',sans-serif">-10.0</text>
<text transform="translate(2809.80,1900.50) scale(0.9200,1)" font-size="47" font-weight="400" fill="#000" text-anchor="middle" font-family="'Noto Sans CJK KR DemiLight','Noto Sans CJK KR',sans-serif">5.8</text>
<text transform="translate(2943.07,1900.50) scale(0.9200,1)" font-size="47" font-weight="400" fill="#000" text-anchor="middle" font-family="'Noto Sans CJK KR DemiLight','Noto Sans CJK KR',sans-serif">-3.7</text>
<text transform="translate(3076.34,1900.50) scale(0.9200,1)" font-size="47" font-weight="400" fill="#000" text-anchor="middle" font-family="'Noto Sans CJK KR DemiLight','Noto Sans CJK KR',sans-serif">6.7</text>
<rect x="1940" y="975" width="137.5" height="1012.5" fill="none" stroke="#E21E8E" stroke-width="10" stroke-dasharray="28.9 8.75" stroke-dashoffset="16.55"/>
<text transform="translate(173.08,2024.00) scale(0.9575,1)" font-size="34" font-weight="400" fill="#000" text-anchor="start" font-family="'Noto Sans CJK KR DemiLight','Noto Sans CJK KR',sans-serif">* 하이퍼스케일러: 아마존, 구글, 메타, 마이크로소프트, 오라클, 전력 ETN, GE버노바 기준</text>
<text transform="translate(170.25,2070.00) scale(0.9509,1)" font-size="34" font-weight="400" fill="#000" text-anchor="start" font-family="'Noto Sans CJK KR DemiLight','Noto Sans CJK KR',sans-serif">※ 자료 : Bloomberg, 삼성자산운용 투자리서치센터 ※ 기준일 : 2026.03.24</text>
<text transform="translate(170.20,2115.00) scale(0.9590,1)" font-size="34" font-weight="400" fill="#000" text-anchor="start" font-family="'Noto Sans CJK KR DemiLight','Noto Sans CJK KR',sans-serif">※ 상기 내용은 향후 달라질 수 있습니다.</text>
<text transform="translate(1744.21,2070.00) scale(0.9570,1)" font-size="34" font-weight="400" fill="#000" text-anchor="start" font-family="'Noto Sans CJK KR DemiLight','Noto Sans CJK KR',sans-serif">※ 자료 : Refinitiv, 삼성자산운용 투자리서치센터 ※ 기준일: 2026.03.24</text>
<text transform="translate(1744.18,2115.00) scale(0.9643,1)" font-size="34" font-weight="400" fill="#000" text-anchor="start" font-family="'Noto Sans CJK KR DemiLight','Noto Sans CJK KR',sans-serif">※ 상기 내용은 향후 달라질 수 있습니다.</text>
<text transform="translate(3055.00,2189.50)" font-size="44" font-weight="400" fill="#000" text-anchor="start" font-family="'Noto Sans CJK KR DemiLight','Noto Sans CJK KR',sans-serif">8</text>
</svg>
</body></html>
